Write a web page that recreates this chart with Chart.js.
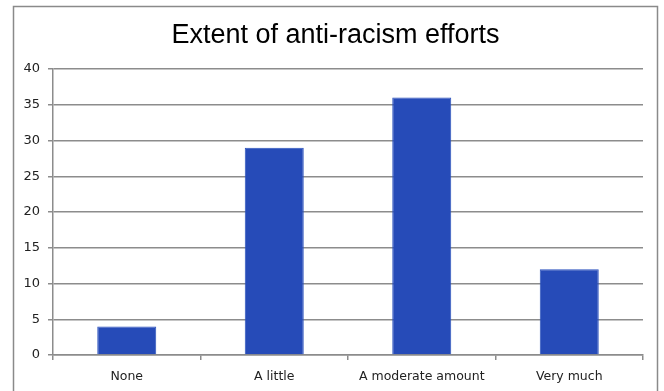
<!DOCTYPE html>
<html>
<head>
<meta charset="utf-8">
<script src="https://cdn.jsdelivr.net/npm/chart.js@4"></script>
<style>
  html, body { margin: 0; padding: 0; background: #ffffff; }
  #wrap { width: 664px; height: 391px; }
</style>
</head>
<body>
<div id="wrap"><canvas id="chart" width="664" height="391"></canvas></div>
<script>
// Survey responses
const categories = ['None', 'A little', 'A moderate amount', 'Very much'];
const responses = [4, 29, 36, 12];
const chartTitle = 'Extent of anti-racism efforts';
const yMin = 0, yMax = 40, yStep = 5;

const gridGray = '#8c8c8c';
const tickFont = { family: '"DejaVu Sans", Verdana, sans-serif', size: 12.5 };

// White backdrop, gray frame around the whole chart, and the heading centred in the frame
const framePlugin = {
  id: 'frame',
  beforeDraw(chart) {
    const ctx = chart.ctx;
    ctx.save();
    ctx.fillStyle = '#ffffff';
    ctx.fillRect(0, 0, chart.width, chart.height);
    ctx.strokeStyle = '#8a8a8a';
    ctx.lineWidth = 1.5;
    ctx.strokeRect(13.5, 6.5, 644, chart.height + 10);
    ctx.fillStyle = '#000000';
    ctx.font = '27px "Liberation Sans", Arial, sans-serif';
    ctx.textAlign = 'center';
    ctx.textBaseline = 'alphabetic';
    ctx.fillText(chartTitle, 335.5, 43);
    ctx.restore();
  }
};

new Chart(document.getElementById('chart'), {
  type: 'bar',
  data: {
    labels: categories,
    datasets: [{
      data: responses,
      backgroundColor: '#264bb8',
      borderColor: '#2a50bd',
      borderWidth: 1,
      barPercentage: 0.4,
      categoryPercentage: 1.0
    }]
  },
  options: {
    responsive: false,
    animation: false,
    devicePixelRatio: 1,
    layout: { padding: { left: 0, right: 21, top: 69, bottom: 0 } },
    plugins: {
      legend: { display: false },
      tooltip: { enabled: false },
      title: { display: false }
    },
    scales: {
      x: {
        offset: true,
        grid: {
          display: true,
          drawOnChartArea: false,
          drawTicks: true,
          tickLength: 5,
          color: gridGray,
          lineWidth: 1.5
        },
        border: { display: true, color: gridGray, width: 1.5 },
        ticks: { color: '#222222', font: tickFont, padding: 9, maxRotation: 0, autoSkip: false },
        afterFit(scale) { scale.height = 36; }
      },
      y: {
        min: yMin,
        max: yMax,
        grid: {
          color: gridGray,
          lineWidth: 1.5,
          drawTicks: true,
          tickLength: 5
        },
        border: { display: true, color: gridGray, width: 1.5 },
        ticks: { stepSize: yStep, color: '#222222', font: { family: tickFont.family, size: 13 }, padding: 8 },
        afterFit(scale) { scale.width = 53; }
      }
    }
  },
  plugins: [framePlugin]
});
</script>
</body>
</html>
